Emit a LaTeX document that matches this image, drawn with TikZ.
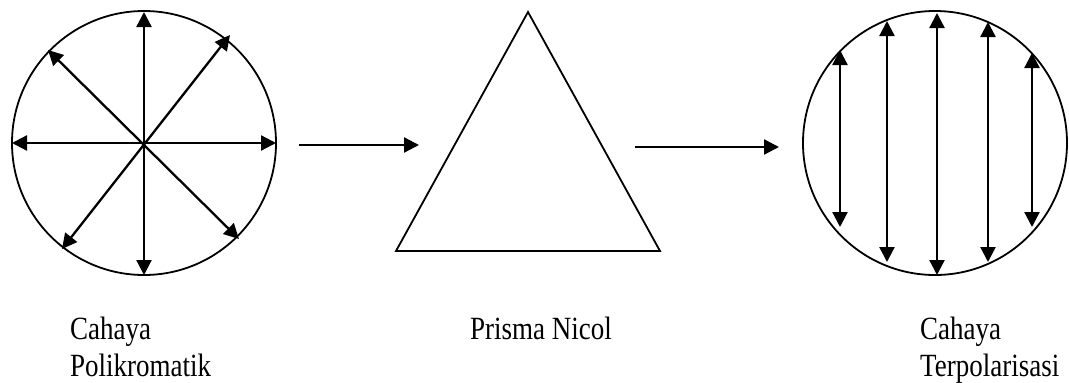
\documentclass[tikz,border=0pt]{standalone}
\usepackage{fontspec}
\setmainfont{Liberation Serif}
\usetikzlibrary{arrows.meta}
\newcommand{\tallt}[1]{\scalebox{1}[1.2]{#1}}
\begin{document}
\begin{tikzpicture}[x=1pt,y=-1pt,
  ring/.style={draw,line width=1.8pt},
  vec/.style={line width=2.3pt,{Triangle[length=15pt,width=15pt]}-{Triangle[length=15pt,width=15pt]}},
  flow/.style={line width=2.3pt,-{Triangle[length=15pt,width=15pt]}},
  lbl/.style={anchor=base west,inner sep=0pt,font=\fontsize{27}{32}\selectfont}]
\useasboundingbox (0,0) rectangle (1069,383);
% left circle
\draw[ring] (144,143) circle[radius=132];
\coordinate (Lc) at (144,143);
\coordinate (Ln) at (144,12);
\coordinate (Ls) at (144,275);
\coordinate (Lw) at (12,143);
\coordinate (Le) at (276,143);
\coordinate (Lne) at (230,35);
\coordinate (Lsw) at (62,249);
\coordinate (Lnw) at (48,50);
\coordinate (Lse) at (239,239);
\draw[vec] (Ln) -- (Ls);
\draw[vec] (Lw) -- (Le);
\draw[vec] (Lne) -- (Lsw);
\draw[vec] (Lnw) -- (Lse);
% prism
\coordinate (Pa) at (528,12);
\coordinate (Pb) at (396,251);
\coordinate (Pc) at (660,251);
\draw[line width=1.8pt,line join=miter] (Pa) -- (Pb) -- (Pc) -- cycle;
% flow arrows
\coordinate (A1s) at (299,145);
\coordinate (A1e) at (419,145);
\coordinate (A2s) at (635,147);
\coordinate (A2e) at (779,147);
\draw[flow] (A1s) -- (A1e);
\draw[flow] (A2s) -- (A2e);
% right circle
\draw[ring] (935,143) circle[radius=132];
\foreach \x/\t/\b [count=\i] in {840/50/227, 887/21/262, 937/13/275, 988/22/262, 1032/53/227}{
  \coordinate (Rt\i) at (\x,\t);
  \coordinate (Rb\i) at (\x,\b);
  \draw[vec] (Rt\i) -- (Rb\i);
}
% labels
\node[lbl] (t1) at (70,339) {\tallt{Cahaya}};
\node[lbl] (t2) at (70,376) {\tallt{Polikromatik}};
\node[lbl] (t3) at (470,339) {\tallt{Prisma Nicol}};
\node[lbl] (t4) at (920,339) {\tallt{Cahaya}};
\node[lbl] (t5) at (920,376) {\tallt{Terpolarisasi}};
\end{tikzpicture}
\end{document}
